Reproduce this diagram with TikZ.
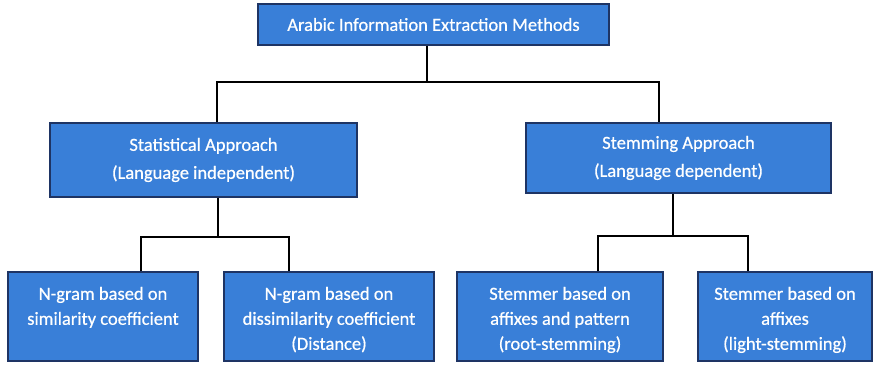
\documentclass[tikz,border=0pt]{standalone}
\usepackage{fontspec}
\setmainfont{Carlito}[FakeBold=0.6]
\definecolor{boxfill}{RGB}{57,127,216}
\definecolor{boxline}{RGB}{30,52,100}
% rows of text set with a fixed line pitch, lowered by #1 inside the box
\newcommand\textrows[2]{\raisebox{#1}[0pt][0pt]{\begin{tabular}{@{}c@{}}#2\end{tabular}}}
\begin{document}
\begin{tikzpicture}[x=1pt,y=-1pt,
  box/.style={draw=boxline,line width=1.3pt,fill=boxfill,text=white,
    align=center,inner sep=0pt,font=\fontsize{18.5}{25}\selectfont},
  leaf/.style={box,minimum height=89pt},
  conn/.style={draw=black,line width=2.4pt}]
\useasboundingbox[fill=white] (0,0) rectangle (875,364);

% boxes
\node[box,minimum width=351pt,minimum height=41pt] (top) at (433.5,24.5)
  {Arabic Information Extraction Methods};
\node[box,minimum width=307pt,minimum height=74pt,
  font=\fontsize{18.5}{28}\selectfont] (stat) at (203.5,160)
  {Statistical Approach\\(Language independent)};
\node[box,minimum width=305pt,minimum height=70pt,
  font=\fontsize{18.5}{28}\selectfont] (stem) at (678.5,158)
  {Stemming Approach\\(Language dependent)};
\node[leaf,minimum width=190pt] (sim) at (103,316.5)
  {\textrows{-7.6pt}{N-gram based on\\similarity coefficient\\\mbox{}}};
\node[leaf,minimum width=210pt] (dis) at (329,316.5)
  {\textrows{-7.6pt}{N-gram based on\\dissimilarity coefficient\\(Distance)}};
\node[leaf,minimum width=206pt] (root) at (560,316.5)
  {\textrows{-7.6pt}{Stemmer based on\\affixes and pattern\\(root-stemming)}};
\node[leaf,minimum width=174pt] (light) at (785,316.5)
  {\textrows{-7.6pt}{Stemmer based on\\affixes\\(light-stemming)}};

% junction points of the elbow connectors
\coordinate (j0) at (427,82);
\coordinate (j0l) at (217,82);
\coordinate (j0r) at (659,82);
\coordinate (j1) at (218,237);
\coordinate (j1l) at (141,237);
\coordinate (j1r) at (289,237);
\coordinate (j2) at (673,236);
\coordinate (j2l) at (598,236);
\coordinate (j2r) at (748,236);

% connectors
\draw[conn] (j0 |- top.south) -- (j0);
\draw[conn] (j0l |- stat.north) -- (j0l) -- (j0r) -- (j0r |- stem.north);
\draw[conn] (j1 |- stat.south) -- (j1);
\draw[conn] (j1l |- sim.north) -- (j1l) -- (j1r) -- (j1r |- dis.north);
\draw[conn] (j2 |- stem.south) -- (j2);
\draw[conn] (j2l |- root.north) -- (j2l) -- (j2r) -- (j2r |- light.north);
\end{tikzpicture}
\end{document}
